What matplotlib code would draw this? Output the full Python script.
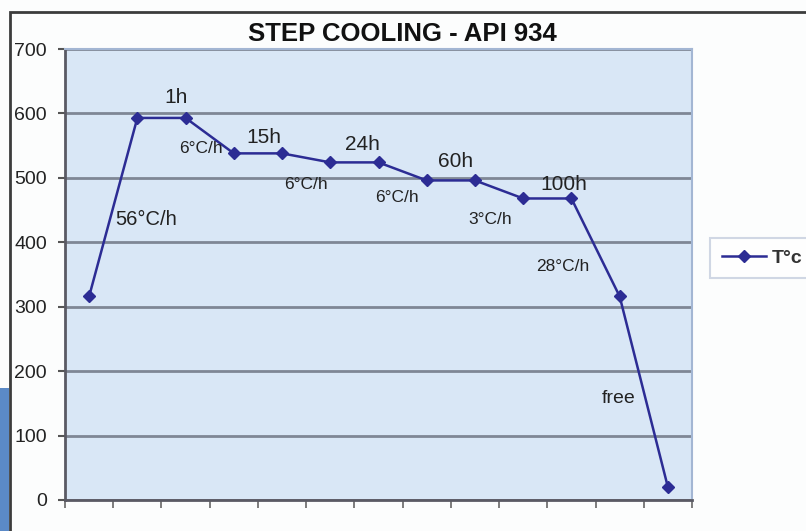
import numpy as np
import matplotlib
matplotlib.use("Agg")
import matplotlib.pyplot as plt
import matplotlib.patches as mpatches

plt.rcParams["font.family"] = ["Liberation Sans", "DejaVu Sans"]

# Step cooling profile (API 934)
temps = [316, 593, 593, 538, 538, 524, 524, 496, 496, 468, 468, 316, 20]
yticks = [0, 100, 200, 300, 400, 500, 600, 700]

# annotations: (text, x category, y value, fontsize)
notes = [
    ("1h", 2.30, 624, 15),
    ("15h", 4.13, 562, 15),
    ("24h", 6.16, 551, 15),
    ("60h", 8.09, 525, 15),
    ("100h", 10.35, 490, 15),
    ("56°C/h", 1.68, 436, 14.5),
    ("6°C/h", 2.82, 545, 12.5),
    ("6°C/h", 5.00, 489, 12.5),
    ("6°C/h", 6.88, 470, 12.5),
    ("3°C/h", 8.81, 436, 12.5),
    ("28°C/h", 10.33, 363, 12.5),
    ("free", 11.47, 157, 14),
]

line_color = "#2c2c94"
text_color = "#222222"

fig = plt.figure(figsize=(8.06, 5.31), dpi=100, facecolor="#fcfdfd")

# outer chart frame (screenshot crop) and blue strip on the left
fig.add_artist(mpatches.Rectangle((10 / 806, -0.1), 1.2, 1 - 12 / 531 + 0.1,
                                  transform=fig.transFigure, facecolor="none",
                                  edgecolor="#3c3c3c", linewidth=2))
fig.add_artist(mpatches.Rectangle((0, 0), 9 / 806, 1 - 388 / 531,
                                  transform=fig.transFigure, facecolor="#5b8ac7",
                                  edgecolor="none"))

ax = fig.add_axes([65 / 806, 1 - 500 / 531, 627 / 806, 451 / 531])
ax.set_facecolor("#d9e7f6")

x = np.arange(len(temps)) + 0.5
ax.plot(x, temps, color=line_color, linewidth=1.8, marker="D", markersize=6.5,
        label="T°c", zorder=3)

ax.set_xlim(0, len(temps))
ax.set_ylim(0, 700)
ax.set_xticks(np.arange(len(temps) + 1))
ax.set_xticklabels([])
ax.set_yticks(yticks)
ax.set_yticklabels([str(v) for v in yticks], fontsize=14, color=text_color)
ax.tick_params(axis="y", direction="out", length=5, width=1.5, color="#555555", pad=8)
ax.tick_params(axis="x", direction="out", length=6, width=1.2, color="#666666")

ax.grid(axis="y", color="#7f8795", linewidth=2)
ax.set_axisbelow(True)

for s in ["left", "bottom"]:
    ax.spines[s].set_color("#5a5a64")
    ax.spines[s].set_linewidth(2)
for s in ["top", "right"]:
    ax.spines[s].set_color("#a3b6d3")
    ax.spines[s].set_linewidth(1.5)

for txt, tx, ty, fs in notes:
    ax.text(tx, ty, txt, fontsize=fs, color=text_color, ha="center", va="center",
            zorder=4)

fig.text(402 / 806, 1 - 34 / 531, "STEP COOLING - API 934", fontsize=18.5,
         fontweight="bold", color="#111111", ha="center", va="center")

leg = ax.legend(loc="center left", bbox_to_anchor=(710 / 806, 1 - 258 / 531),
                bbox_transform=fig.transFigure, frameon=True, fancybox=False,
                fontsize=14, handlelength=2.3, handletextpad=0.3, borderpad=0.6,
                borderaxespad=0)
leg.get_frame().set_edgecolor("#c5cede")
leg.get_frame().set_linewidth(1.5)
leg.get_frame().set_facecolor("white")
for t in leg.get_texts():
    t.set_color("#333333")
    t.set_fontweight("bold")

fig.savefig("out.png", dpi=100, facecolor=fig.get_facecolor())
